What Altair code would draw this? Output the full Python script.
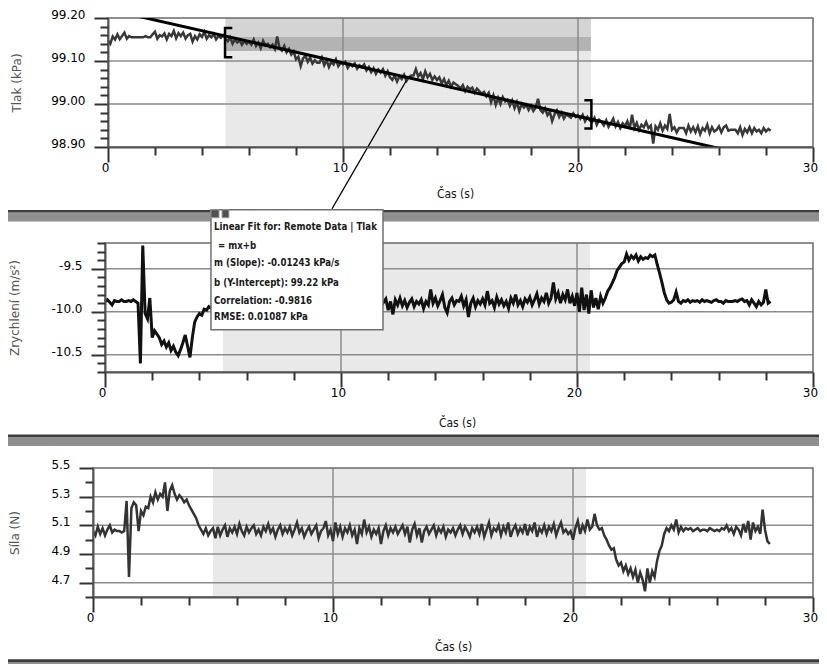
import altair as alt
import pandas as pd

# ---------------- data ----------------
SAMPLE_STEP = 0.1  # s between samples, series start at t = 0 s

pressure_kpa = (
    [99.148, 99.140, 99.157, 99.150, 99.162, 99.151, 99.158, 99.166, 99.152, 99.158]
    + [99.155, 99.155, 99.155, 99.155, 99.155, 99.155, 99.158, 99.155, 99.155, 99.162]
    + [99.168, 99.152, 99.160, 99.157, 99.164, 99.150, 99.163, 99.158, 99.170, 99.153]
    + [99.165, 99.158, 99.166, 99.152, 99.160, 99.163, 99.145, 99.158, 99.150, 99.162]
    + [99.156, 99.168, 99.152, 99.160, 99.155, 99.163, 99.150, 99.158, 99.154, 99.160]
    + [99.152, 99.146, 99.155, 99.140, 99.150, 99.143, 99.148, 99.138, 99.147, 99.140]
    + [99.145, 99.138, 99.150, 99.135, 99.143, 99.130, 99.147, 99.136, 99.140, 99.132]
    + [99.138, 99.128, 99.157, 99.130, 99.124, 99.135, 99.120, 99.128, 99.115, 99.122]
    + [99.104, 99.110, 99.088, 99.106, 99.112, 99.098, 99.108, 99.094, 99.102, 99.096]
    + [99.096, 99.108, 99.090, 99.102, 99.086, 99.098, 99.092, 99.104, 99.088, 99.096]
    + [99.092, 99.098, 99.084, 99.093, 99.088, 99.094, 99.082, 99.090, 99.086, 99.092]
    + [99.078, 99.086, 99.074, 99.083, 99.070, 99.080, 99.073, 99.081, 99.066, 99.076]
    + [99.062, 99.056, 99.066, 99.052, 99.064, 99.058, 99.068, 99.054, 99.062, 99.066]
    + [99.066, 99.081, 99.064, 99.072, 99.058, 99.076, 99.062, 99.070, 99.056, 99.064]
    + [99.056, 99.062, 99.048, 99.058, 99.044, 99.054, 99.040, 99.050, 99.046, 99.042]
    + [99.036, 99.044, 99.030, 99.040, 99.034, 99.038, 99.026, 99.036, 99.030, 99.024]
    + [99.028, 99.018, 99.026, 99.004, 99.020, 98.998, 99.014, 99.000, 99.016, 99.006]
    + [99.010, 98.996, 99.008, 98.990, 99.004, 98.984, 99.000, 98.992, 98.998, 98.986]
    + [98.996, 98.984, 98.992, 99.012, 98.986, 98.980, 98.990, 98.974, 98.982, 98.960]
    + [98.976, 98.985, 98.970, 98.980, 98.966, 98.976, 98.972, 98.968, 98.978, 98.970]
    + [98.974, 98.966, 98.975, 98.960, 98.970, 98.962, 98.958, 98.968, 98.952, 98.963]
    + [98.958, 98.950, 98.962, 98.947, 98.956, 98.966, 98.948, 98.958, 98.944, 98.955]
    + [98.948, 98.960, 98.942, 98.975, 98.944, 98.956, 98.940, 98.952, 98.946, 98.958]
    + [98.944, 98.950, 98.908, 98.948, 98.940, 98.955, 98.938, 98.950, 98.942, 98.977]
    + [98.940, 98.946, 98.934, 98.944, 98.944, 98.944, 98.932, 98.950, 98.936, 98.946]
    + [98.934, 98.948, 98.930, 98.944, 98.938, 98.952, 98.932, 98.946, 98.936, 98.940]
    + [98.948, 98.934, 98.946, 98.950, 98.938, 98.940, 98.940, 98.940, 98.932, 98.946]
    + [98.928, 98.942, 98.934, 98.946, 98.932, 98.944, 98.936, 98.940, 98.932, 98.944]
    + [98.936, 98.942, 98.938]
)

accel_ms2 = (
    [-9.88, -9.86, -9.89, -9.92, -9.87, -9.88, -9.88, -9.86, -9.88, -9.88]
    + [-9.87, -9.88, -9.86, -9.88, -9.90, -10.60, -9.23, -10.02, -10.08, -9.84]
    + [-10.30, -10.22, -10.26, -10.30, -10.38, -10.34, -10.41, -10.36, -10.45, -10.40]
    + [-10.47, -10.51, -10.44, -10.36, -10.27, -10.40, -10.53, -10.30, -10.12, -10.06]
    + [-10.02, -10.04, -9.97, -9.98, -9.94, -9.96, -9.90, -9.93, -9.88, -9.92]
    + [-9.90, -9.86, -9.93, -9.89, -9.95, -9.88, -9.91, -9.85, -9.92, -9.89]
    + [-9.94, -9.87, -9.90, -9.92, -9.86, -9.93, -9.89, -9.91, -9.87, -9.94]
    + [-9.90, -9.86, -9.92, -9.88, -9.95, -9.89, -9.91, -9.86, -9.93, -9.88]
    + [-9.91, -9.87, -9.94, -9.89, -9.86, -9.92, -9.88, -9.95, -9.90, -9.87]
    + [-9.93, -9.89, -9.91, -9.86, -9.94, -9.88, -9.90, -9.92, -9.87, -9.93]
    + [-9.89, -9.91, -9.86, -9.94, -9.88, -9.92, -9.90, -9.87, -9.93, -9.89]
    + [-9.91, -9.86, -9.94, -9.88, -9.90, -9.92, -9.87, -9.93, -9.89, -9.85]
    + [-9.98, -9.88, -10.03, -9.86, -9.92, -9.84, -9.93, -9.87, -9.95, -9.89]
    + [-9.85, -9.94, -9.88, -9.91, -9.86, -9.96, -9.88, -9.92, -9.74, -9.90]
    + [-9.84, -9.93, -9.87, -9.80, -9.95, -10.01, -9.88, -9.84, -9.92, -9.87]
    + [-9.88, -9.82, -9.93, -9.86, -10.06, -9.90, -9.84, -9.94, -9.87, -9.91]
    + [-9.85, -9.92, -9.76, -9.90, -9.87, -9.95, -9.83, -9.91, -9.86, -9.93]
    + [-9.88, -9.96, -9.84, -9.90, -9.80, -9.92, -9.87, -9.94, -9.85, -9.89]
    + [-9.83, -9.92, -9.86, -9.79, -9.91, -9.84, -9.88, -9.78, -9.90, -9.84]
    + [-9.66, -9.85, -9.78, -9.90, -9.80, -9.86, -9.74, -9.90, -9.82, -9.93]
    + [-9.78, -10.00, -9.72, -9.98, -9.80, -10.02, -9.75, -9.95, -9.84, -9.97]
    + [-9.82, -9.90, -9.84, -9.76, -9.72, -9.66, -9.60, -9.52, -9.48, -9.44]
    + [-9.42, -9.33, -9.40, -9.35, -9.38, -9.34, -9.41, -9.36, -9.39, -9.37]
    + [-9.38, -9.34, -9.36, -9.34, -9.45, -9.55, -9.66, -9.78, -9.86, -9.90]
    + [-9.89, -9.86, -9.77, -9.88, -9.90, -9.87, -9.88, -9.86, -9.89, -9.87]
    + [-9.88, -9.87, -9.89, -9.86, -9.88, -9.87, -9.88, -9.89, -9.87, -9.86]
    + [-9.88, -9.88, -9.90, -9.87, -9.88, -9.88, -9.88, -9.87, -9.88, -9.86]
    + [-9.85, -9.88, -9.87, -9.92, -9.86, -9.90, -9.94, -9.88, -9.92, -9.89]
    + [-9.74, -9.90, -9.88]
)

force_n = (
    [5.06, 5.03, 5.09, 5.04, 5.08, 5.03, 5.07, 5.10, 5.05, 5.07]
    + [5.06, 5.06, 5.05, 5.06, 5.27, 4.74, 5.22, 5.26, 5.24, 5.06]
    + [5.20, 5.17, 5.23, 5.22, 5.30, 5.26, 5.33, 5.28, 5.32, 5.30]
    + [5.40, 5.20, 5.34, 5.38, 5.32, 5.28, 5.31, 5.29, 5.26, 5.28]
    + [5.24, 5.21, 5.18, 5.15, 5.10, 5.07, 5.04, 5.08, 5.03, 5.06]
    + [5.08, 5.01, 5.09, 5.03, 5.07, 5.10, 5.02, 5.08, 5.05, 5.09]
    + [5.04, 5.11, 5.06, 5.03, 5.09, 5.05, 5.08, 5.10, 5.04, 5.07]
    + [5.03, 5.09, 5.06, 5.11, 5.05, 5.08, 5.02, 5.07, 5.10, 5.04]
    + [5.08, 5.05, 5.09, 5.03, 5.07, 5.12, 5.05, 5.08, 5.02, 5.06]
    + [5.09, 5.04, 5.07, 5.10, 5.01, 5.06, 5.08, 5.13, 5.03, 5.07]
    + [4.99, 5.12, 5.04, 5.09, 5.02, 5.08, 5.05, 5.10, 5.03, 5.07]
    + [4.97, 5.08, 5.04, 5.14, 5.05, 5.09, 5.02, 5.07, 5.04, 5.08]
    + [4.97, 5.06, 5.10, 5.03, 5.08, 5.05, 5.09, 5.04, 5.07, 5.10]
    + [5.04, 5.09, 4.98, 5.07, 5.11, 5.03, 5.08, 4.98, 5.06, 5.09]
    + [5.04, 5.07, 5.10, 5.03, 5.08, 5.05, 5.09, 5.02, 5.07, 5.05]
    + [5.08, 5.03, 5.07, 5.10, 5.04, 5.09, 5.06, 5.02, 5.08, 5.05]
    + [5.09, 5.04, 5.11, 5.02, 5.07, 5.12, 5.03, 5.08, 5.06, 5.10]
    + [5.03, 5.09, 5.05, 5.12, 5.02, 5.07, 5.10, 5.04, 5.08, 5.05]
    + [5.11, 5.03, 5.09, 5.06, 5.12, 5.02, 5.08, 5.05, 5.10, 5.04]
    + [5.09, 5.06, 5.11, 5.03, 5.08, 5.12, 5.05, 5.07, 5.04, 5.06]
    + [5.00, 5.08, 5.13, 5.04, 5.10, 5.06, 5.14, 5.07, 5.09, 5.18]
    + [5.10, 5.07, 5.08, 5.03, 5.00, 4.96, 4.93, 4.94, 4.86, 4.82]
    + [4.84, 4.78, 4.82, 4.76, 4.80, 4.74, 4.79, 4.70, 4.77, 4.72]
    + [4.64, 4.80, 4.70, 4.78, 4.74, 4.85, 4.92, 4.96, 5.04, 5.08]
    + [5.06, 5.10, 5.07, 5.14, 5.05, 5.09, 5.06, 5.08, 5.07, 5.08]
    + [5.06, 5.07, 5.08, 5.06, 5.07, 5.07, 5.06, 5.08, 5.07, 5.06]
    + [5.07, 5.06, 5.08, 5.07, 5.10, 5.06, 5.08, 5.04, 5.09, 5.07]
    + [5.03, 5.11, 5.05, 5.13, 5.00, 5.12, 5.06, 5.09, 5.04, 5.21]
    + [5.07, 4.99, 4.97]
)

time_s = [round(i * SAMPLE_STEP, 1) for i in range(len(pressure_kpa))]

# selected region and linear fit
SEL_START, SEL_END = 5.0, 20.55
FIT_SLOPE, FIT_INTERCEPT = -0.01243, 99.22
FIT_CORR, FIT_RMSE = -0.9816, 0.01087
FIT_T = [0.0, 30.0]
BAND_LO, BAND_HI = 99.123, 99.156

# axes
X_DOMAIN = [0, 30]
X_MAJOR = [0, 10, 20, 30]
X_MINOR = [2, 4, 6, 8, 12, 14, 16, 18, 22, 24, 26, 28]
X_GRID = [10, 20]

P_DOMAIN = [98.90, 99.20]
P_MAJOR = [98.90, 99.00, 99.10, 99.20]
P_MINOR = [98.92, 98.94, 98.96, 98.98, 99.02, 99.04, 99.06, 99.08,
           99.12, 99.14, 99.16, 99.18]
P_GRID = [99.00, 99.10]

A_DOMAIN = [-10.7, -9.2]
A_MAJOR = [-10.5, -10.0, -9.5]
A_MINOR = [-10.7, -10.6, -10.4, -10.3, -10.2, -10.1, -9.9, -9.8, -9.7,
           -9.6, -9.4, -9.3, -9.2]
A_GRID = [-10.5, -10.0, -9.5]

F_DOMAIN = [4.6, 5.5]
F_MAJOR = [4.7, 4.9, 5.1, 5.3, 5.5]
F_MINOR = [4.6, 4.8, 5.0, 5.2, 5.4]
F_GRID = [4.7, 4.9, 5.1, 5.3]

# ---------------- styling ----------------
W, H = 720, 129
FONT = "DejaVu Sans"
COND = "DejaVu Sans Condensed"
GRID_C = "#8c8c8c"
FRAME_C = "#6b6b6b"
TICK_C = "#333333"
SHADE_C = "#e9e9e9"


def x_major(title_x, title_y):
    return alt.Axis(orient="bottom", values=X_MAJOR, format="d", tickSize=15, tickWidth=2,
                    tickColor=TICK_C, domainColor="#555555", domainWidth=2, labelFont=FONT,
                    labelFontSize=12, labelColor="#000000", labelPadding=0, labelOffset=-3,
                    labelFlush=False, labelOverlap=False, grid=False, title="Čas (s)",
                    titleFont=COND, titleFontSize=12, titleFontWeight="normal",
                    titleColor="#111111", titleX=title_x, titleY=title_y,
                    titleBaseline="middle", titleAlign="center", zindex=2)


def x_minor():
    return alt.Axis(orient="bottom", values=X_MINOR, tickSize=8, tickWidth=2, tickColor=TICK_C,
                    labels=False, domain=False, grid=False, title=None, zindex=2)


def y_major(values, expr, title, title_x, offset):
    return alt.Axis(orient="left", values=values, labelExpr=expr, tickSize=14, tickWidth=2,
                    tickColor=TICK_C, domainColor="#555555", domainWidth=2, labelFont=FONT,
                    labelFontSize=12, labelColor="#000000", labelPadding=9, labelOffset=-3.5,
                    labelOverlap=False, labelBaseline="middle", grid=False, offset=offset,
                    title=title, titleFont=FONT, titleFontSize=12, titleFontWeight="normal",
                    titleColor="#555555", titleX=title_x, titleY=H / 2,
                    titleAlign="center", titleBaseline="middle", zindex=2)


def y_minor(values, offset):
    return alt.Axis(orient="left", values=values, tickSize=8, tickWidth=2, tickColor=TICK_C,
                    labels=False, domain=False, grid=False, title=None, offset=offset, zindex=2)


HYPHEN_1F = "replace(format(datum.value, '.1f'), '\u2212', '-')"


def panel(df, color, width, xs, ys, ydom, grid_y, ymaj, ymin, expr, ytitle, ytitle_x,
          offset, xtitle_x, xtitle_y, shade_rows, extra_front=()):
    shade = alt.Chart(pd.DataFrame(shade_rows)).mark_rect().encode(
        x=alt.X("a:Q", scale=xs, axis=None), x2="b:Q",
        y=alt.Y("c:Q", scale=ys, axis=None), y2="d:Q",
        color=alt.Color("fill:N", scale=None))
    vgrid = alt.Chart(pd.DataFrame({"g": X_GRID})).mark_rule(
        color=GRID_C, strokeWidth=1.5).encode(x=alt.X("g:Q", scale=xs, axis=None))
    hgrid = alt.Chart(pd.DataFrame({"g": grid_y, "a": X_DOMAIN[0], "b": X_DOMAIN[1]})).mark_rule(
        color=GRID_C, strokeWidth=1.5).encode(
        x=alt.X("a:Q", scale=xs, axis=None), x2="b:Q",
        y=alt.Y("g:Q", scale=ys, axis=None))
    frame_df = pd.DataFrame({"a": [X_DOMAIN[0]], "b": [X_DOMAIN[1]],
                             "c": [ydom[0]], "d": [ydom[1]]})
    frame = alt.Chart(frame_df).mark_rect(
        fillOpacity=0, stroke=FRAME_C, strokeWidth=1.5).encode(
        x=alt.X("a:Q", scale=xs, axis=None), x2="b:Q",
        y=alt.Y("c:Q", scale=ys, axis=None), y2="d:Q")
    line = alt.Chart(df).mark_line(color=color, strokeWidth=width, clip=True).encode(
        x=alt.X("t:Q", scale=xs, axis=x_major(xtitle_x, xtitle_y)),
        y=alt.Y("v:Q", scale=ys, axis=y_major(ymaj, expr, ytitle, ytitle_x, offset)))
    minor = alt.Chart(frame_df).mark_point(opacity=0).encode(
        x=alt.X("a:Q", scale=xs, axis=x_minor()),
        y=alt.Y("c:Q", scale=ys, axis=y_minor(ymin, offset)))
    layers = [shade, vgrid, hgrid, frame, line] + list(extra_front) + [minor]
    return alt.layer(*layers).resolve_axis(x="independent", y="independent").properties(
        width=W, height=H)


# ---------- panel 1 : pressure ----------
xs1 = alt.Scale(domain=X_DOMAIN, range=[15, W], nice=False, zero=False)
ys1 = alt.Scale(domain=P_DOMAIN, nice=False, zero=False)
df_p = pd.DataFrame({"t": time_s, "v": pressure_kpa})

shade1 = {"a": [SEL_START] * 3, "b": [SEL_END] * 3,
          "c": [P_DOMAIN[0], BAND_HI, BAND_LO],
          "d": [P_DOMAIN[1], P_DOMAIN[1], BAND_HI],
          "fill": [SHADE_C, "#d4d4d4", "#b3b3b3"]}

fit_df = pd.DataFrame({"t": FIT_T})
fit_df["v"] = FIT_INTERCEPT + FIT_SLOPE * fit_df["t"]
fit = alt.Chart(fit_df).mark_line(color="#000000", strokeWidth=3, clip=True).encode(
    x=alt.X("t:Q", scale=xs1, axis=None), y=alt.Y("v:Q", scale=ys1, axis=None))

brackets_df = pd.DataFrame({
    "t": [5.29, 4.98, 4.98, 5.29, 20.27, 20.57, 20.57, 20.27],
    "v": [99.177, 99.177, 99.109, 99.109, 99.009, 99.009, 98.943, 98.943],
    "k": ["L"] * 4 + ["R"] * 4,
    "o": [0, 1, 2, 3, 0, 1, 2, 3]})
brackets = alt.Chart(brackets_df).mark_line(color="#000000", strokeWidth=2.5).encode(
    x=alt.X("t:Q", scale=xs1, axis=None), y=alt.Y("v:Q", scale=ys1, axis=None),
    detail="k:N", order="o:Q")

leader_df = pd.DataFrame({"t": [12.70, 9.53], "v": [99.055, 98.756]})
leader = alt.Chart(leader_df).mark_line(color="#000000", strokeWidth=1.2).encode(
    x=alt.X("t:Q", scale=xs1, axis=None), y=alt.Y("v:Q", scale=ys1, axis=None))

p1 = panel(df_p, "#383838", 2.5, xs1, ys1, P_DOMAIN, P_GRID, P_MAJOR, P_MINOR,
           "format(datum.value, '.2f')", "Tlak (kPa)", -92, -15, 362, 46, shade1,
           extra_front=[fit, brackets, leader])

# ---------- panel 2 : acceleration ----------
xs2 = alt.Scale(domain=X_DOMAIN, range=[12, W], nice=False, zero=False)
ys2 = alt.Scale(domain=A_DOMAIN, nice=False, zero=False)
df_a = pd.DataFrame({"t": time_s, "v": accel_ms2})
shade2 = {"a": [SEL_START], "b": [SEL_END], "c": [A_DOMAIN[0]], "d": [A_DOMAIN[1]],
          "fill": [SHADE_C]}

box_df = pd.DataFrame({"a": [4.49], "b": [11.78], "c": [-10.208], "d": [-8.813]})
box = alt.Chart(box_df).mark_rect(fill="#ffffff", stroke="#707070", strokeWidth=1.5).encode(
    x=alt.X("a:Q", scale=xs2, axis=None), x2="b:Q",
    y=alt.Y("c:Q", scale=ys2, axis=None), y2="d:Q")
icons_df = pd.DataFrame({"a": [4.49, 4.96], "b": [4.83, 5.25],
                         "c": [-8.906, -8.906], "d": [-8.813, -8.813]})
icons = alt.Chart(icons_df).mark_rect(fill="#505050", stroke="#9a9a9a", strokeWidth=1).encode(
    x=alt.X("a:Q", scale=xs2, axis=None), x2="b:Q",
    y=alt.Y("c:Q", scale=ys2, axis=None), y2="d:Q")
note_lines = [
    "Linear Fit for: Remote Data | Tlak",
    "= mx+b",
    f"m (Slope): {FIT_SLOPE:.5f} kPa/s",
    f"b (Y-Intercept): {FIT_INTERCEPT:.2f} kPa",
    f"Correlation: {FIT_CORR:.4f}",
    f"RMSE: {FIT_RMSE:.5f} kPa",
]
note_df = pd.DataFrame({"t": [4.62, 4.79, 4.62, 4.62, 4.62, 4.62],
                        "v": [-9.019, -9.231, -9.437, -9.670, -9.871, -10.065],
                        "label": note_lines})
note = alt.Chart(note_df).mark_text(align="left", baseline="middle", font=COND, fontSize=9.6,
                                    fontWeight="bold", color="#1a1a1a").encode(
    x=alt.X("t:Q", scale=xs2, axis=None), y=alt.Y("v:Q", scale=ys2, axis=None),
    text="label:N")

p2 = panel(df_a, "#111111", 3, xs2, ys2, A_DOMAIN, A_GRID, A_MAJOR, A_MINOR,
           HYPHEN_1F, "Zrychlení (m/s²)", -91, -12, 364, 50, shade2,
           extra_front=[box, icons, note])

# ---------- panel 3 : force ----------
xs3 = alt.Scale(domain=X_DOMAIN, range=[0, W], nice=False, zero=False)
ys3 = alt.Scale(domain=F_DOMAIN, nice=False, zero=False)
df_f = pd.DataFrame({"t": time_s, "v": force_n})
shade3 = {"a": [SEL_START], "b": [SEL_END], "c": [F_DOMAIN[0]], "d": [F_DOMAIN[1]],
          "fill": [SHADE_C]}
p3 = panel(df_f, "#333333", 2.5, xs3, ys3, F_DOMAIN, F_GRID, F_MAJOR, F_MINOR,
           "format(datum.value, '.1f')", "Síla (N)", -79, 0, 360, 49, shade3)


# ---------- separators between panes ----------
def separator(h, dark_top, dark_bot, gray_bot):
    base = alt.Chart(pd.DataFrame({"k": [0]}))
    gray = base.mark_rect(color="#8f8f8f").encode(
        x=alt.value(-85), x2=alt.value(W + 6), y=alt.value(dark_bot), y2=alt.value(gray_bot))
    dark = base.mark_rect(color="#3c3c3c").encode(
        x=alt.value(-85), x2=alt.value(W + 6), y=alt.value(dark_top), y2=alt.value(dark_bot))
    return alt.layer(gray, dark).properties(width=W, height=h)


s1 = separator(96, 63, 65.5, 74.5)
s2 = separator(96, 62.5, 65, 74)
s3 = separator(68, 62.3, 65, 76)

chart = alt.vconcat(p1, s1, p2, s2, p3, s3, spacing=0, bounds="flush").properties(
    padding={"left": 0, "top": 0, "right": 0, "bottom": 0},
    background="#ffffff",
).configure_view(strokeWidth=0)

chart.save("out.html", embed_options={"renderer": "svg", "actions": False})
